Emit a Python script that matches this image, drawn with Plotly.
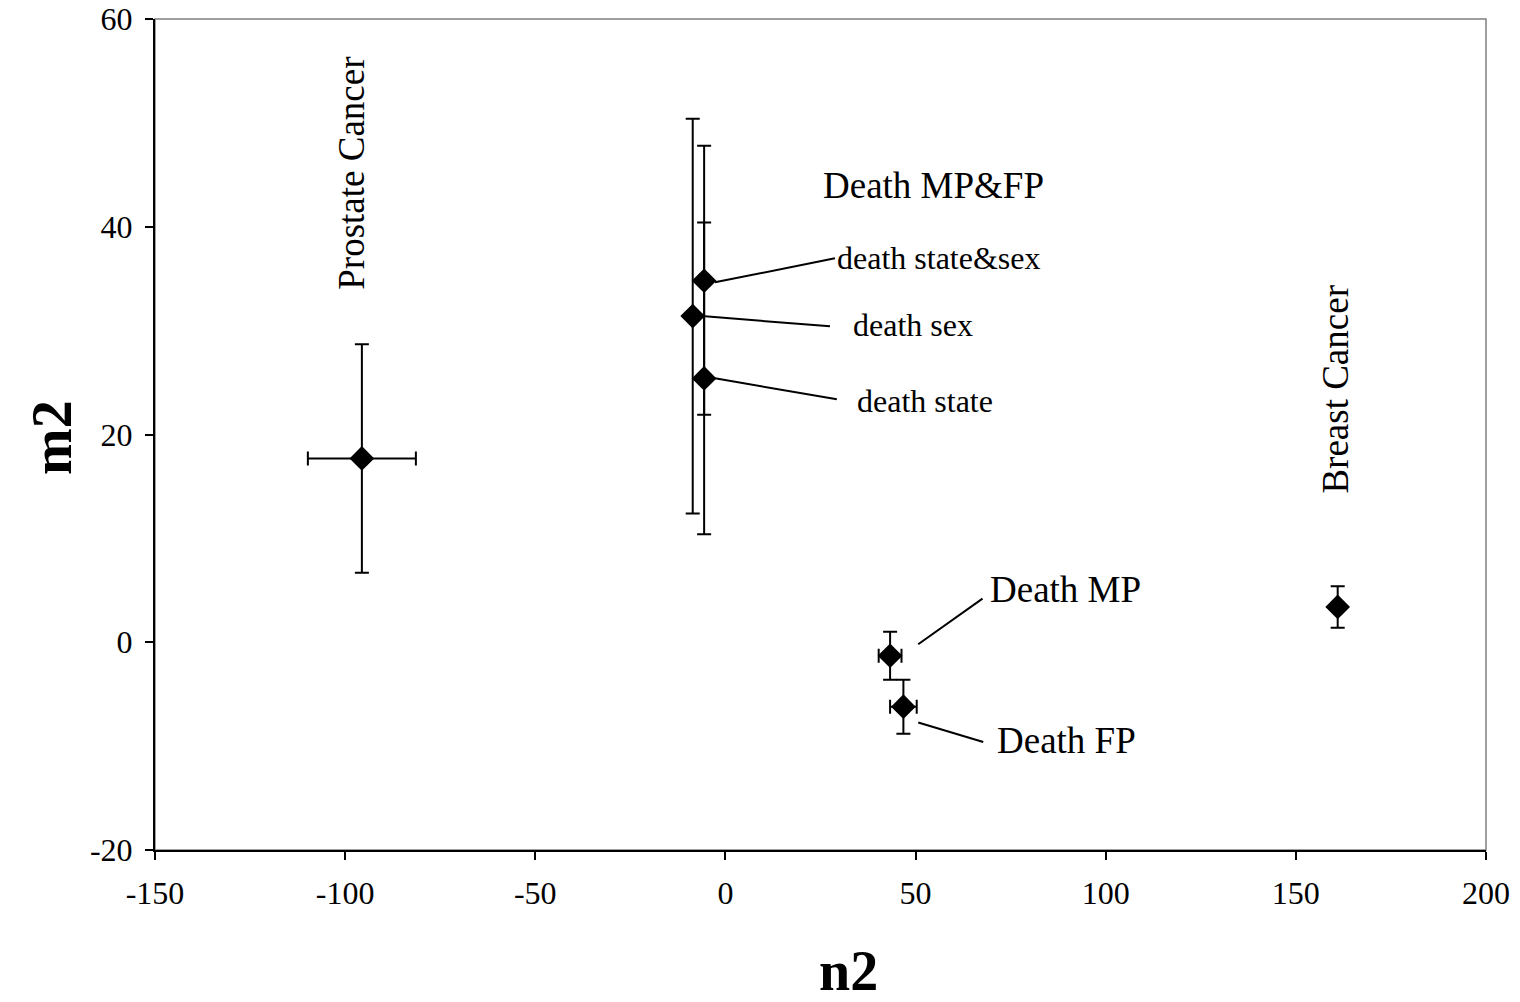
import plotly.graph_objects as go

# ---- data ----
names = ["Prostate Cancer", "death state&sex", "death sex", "death state", "Death MP", "Death FP", "Breast Cancer"]
n2 = [-95.6, -5.6, -8.6, -5.6, 43.3, 46.8, 161.0]
m2 = [17.7, 34.8, 31.4, 25.4, -1.3, -6.2, 3.4]
m2_err_plus = [11.0, 5.6, 19.0, 22.4, 2.3, 2.6, 2.0]
m2_err_minus = [11.0, 12.9, 19.0, 15.0, 2.3, 2.6, 2.0]
n2_err = [14.2, None, None, None, 3.0, 3.5, None]

x_tick_vals = [-150, -100, -50, 0, 50, 100, 150, 200]
x_tick_text = ["-150", "-100", "-50", "0", "50", "100", "150", "200"]
y_tick_vals = [-20, 0, 20, 40, 60]
y_tick_text = ["-20", "0", "20", "40", "60"]

# labels with leader lines: (text, text_x, text_y, line x0, y0, x1, y1, font size)
leader_labels = [
    ("death state&sex", 28.8, 37.0, -2.75, 34.65, 28.8, 36.96, 32),
    ("death sex", 33.0, 30.5, -5.4, 31.38, 27.5, 30.41, 32),
    ("death state", 34.1, 23.2, -2.75, 25.41, 29.3, 23.39, 32),
    ("Death MP", 69.0, 5.1, 50.7, -0.19, 67.6, 4.2, 37),
    ("Death FP", 70.9, -9.5, 50.7, -7.73, 67.8, -9.6, 37),
]
# free labels: (text, x, y, angle)
free_labels = [
    ("Death MP&FP", 54.6, 44.0, 0),
    ("Prostate Cancer", -98.2, 45.2, -90),
    ("Breast Cancer", 160.5, 24.4, -90),
]

FONT = "Liberation Serif, Times New Roman, serif"

fig = go.Figure()
for i in range(len(names)):
    ex = None
    if n2_err[i] is not None:
        ex = dict(type="data", array=[n2_err[i]], symmetric=True, color="black",
                  thickness=2, width=7)
    fig.add_trace(go.Scatter(
        x=[n2[i]], y=[m2[i]], mode="markers", name=names[i],
        marker=dict(symbol="diamond", size=19, color="black", line=dict(width=0)),
        error_y=dict(type="data", array=[m2_err_plus[i]], arrayminus=[m2_err_minus[i]],
                     symmetric=False, color="black", thickness=2, width=7),
        error_x=ex if ex else dict(visible=False),
        showlegend=False,
    ))

shapes = [dict(type="rect", xref="paper", yref="paper", x0=0, y0=0, x1=1, y1=1,
               line=dict(color="#808080", width=1.5), layer="below")]
annotations = []
for (t, tx, ty, x0, y0, x1, y1, fs) in leader_labels:
    shapes.append(dict(type="line", xref="x", yref="y", x0=x0, y0=y0, x1=x1, y1=y1,
                       line=dict(color="black", width=2)))
    annotations.append(dict(text=t, x=tx, y=ty, xref="x", yref="y", showarrow=False,
                            xanchor="left", yanchor="middle",
                            font=dict(family=FONT, size=fs, color="black")))
for (t, tx, ty, ang) in free_labels:
    annotations.append(dict(text=t, x=tx, y=ty, xref="x", yref="y", showarrow=False,
                            textangle=ang, xanchor="center", yanchor="middle",
                            font=dict(family=FONT, size=37, color="black")))

# axis titles
annotations.append(dict(text="<b>n2</b>", x=0.5207, y=-0.146, xref="paper", yref="paper",
                        showarrow=False, xanchor="center", yanchor="middle",
                        font=dict(family=FONT, size=56, color="black")))
annotations.append(dict(text="<b>m2</b>", x=-0.0774, y=0.497, xref="paper", yref="paper",
                        showarrow=False, xanchor="center", yanchor="middle", textangle=-90,
                        font=dict(family=FONT, size=56, color="black")))

fig.update_layout(
    width=1520, height=1002,
    margin=dict(l=155, r=34, t=19, b=152, autoexpand=False),
    paper_bgcolor="white", plot_bgcolor="white",
    font=dict(family=FONT, color="black"),
    shapes=shapes, annotations=annotations,
    xaxis=dict(range=[-150, 200], tickvals=x_tick_vals, ticktext=x_tick_text,
               showgrid=False, zeroline=False, showline=True, linecolor="black", linewidth=2,
               ticks="outside", ticklen=8, tickwidth=2, tickcolor="black", automargin=False,
               ticklabelstandoff=6,
               tickfont=dict(family=FONT, size=32)),
    yaxis=dict(range=[-20, 60], tickvals=y_tick_vals, ticktext=y_tick_text,
               showgrid=False, zeroline=False, showline=True, linecolor="black", linewidth=2,
               ticks="outside", ticklen=8, tickwidth=2, tickcolor="black", automargin=False,
               ticklabelstandoff=6,
               tickfont=dict(family=FONT, size=32)),
)

fig.write_html("out.html")
